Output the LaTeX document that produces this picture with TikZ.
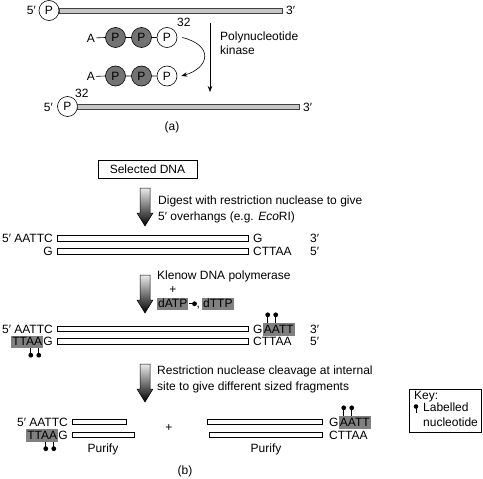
\documentclass[tikz,border=0pt]{standalone}
\usepackage{fontspec}
\setmainfont{Liberation Sans}
\usetikzlibrary{arrows.meta}
\begin{document}
\begin{tikzpicture}[x=1pt,y=-1pt,
  every node/.style={font=\fontsize{12}{14}\selectfont},
  lab/.style={anchor=base west, inner sep=0pt},
  labr/.style={anchor=base east, inner sep=0pt},
  labc/.style={anchor=base, inner sep=0pt},
  pc/.style={circle, draw, line width=0.6pt, minimum size=20pt, inner sep=0pt, fill=white},
  pd/.style={pc, fill=black!55},
  strandA/.style={draw=black!75, fill=black!22, line width=0.5pt},
  strand/.style={draw, fill=white, line width=0.6pt},
  hl/.style={fill=black!50, inner xsep=1pt, inner ysep=0pt, text height=10pt, text depth=2.5pt},
  conn/.style={line width=0.6pt},
  pindown/.pic={\draw[line width=0.8pt] (0,0) -- (0,7); \fill (0,7) circle (2.4pt);},
  pinup/.pic={\draw[line width=0.8pt] (0,0) -- (0,-8); \fill (0,-8) circle (2.4pt);},
  keypin/.pic={\draw[line width=0.8pt] (0,0) -- (0,-6.5); \fill (0,-6.5) circle (2.3pt);},
  pinright/.pic={\draw[line width=0.8pt] (0,0) -- (6,0); \fill (6,0) circle (2.4pt);},
  garrow/.pic={\shade[top color=black!8, bottom color=black, draw=black, line width=0.5pt] (-5,0) -- (5,0) -- (5,25) -- (8,25) -- (0,38) -- (-8,25) -- (-5,25) -- cycle;}
]
\useasboundingbox (0,0) rectangle (483,479);

% ---------------- (a) ----------------
\node[labr] (a5t) at (36,15) {5′};
\node[pc] (pt) at (49,10.5) {P};
\draw[strandA] (59,8.2) rectangle (282,13);
\node[lab] (a3t) at (286,15) {3′};

\node[labr] (A1) at (95,42) {A};
\node[pd] (c11) at (115.5,37.5) {P};
\node[pd] (c12) at (141.5,37.5) {P};
\node[pc] (c13) at (167,37.5) {P};
\draw[conn] ([xshift=1pt]A1.east) -- (c11.west) (c11.east) -- (c12.west) (c12.east) -- (c13.west);
\node[lab] (n32a) at (177,26.5) {32};

\node[labr] (A2) at (95,80.5) {A};
\node[pd] (c21) at (115.5,76) {P};
\node[pd] (c22) at (141.5,76) {P};
\node[pc] (c23) at (167,76) {P};
\draw[conn] ([xshift=1pt]A2.east) -- (c21.west) (c21.east) -- (c22.west) (c22.east) -- (c23.west);

\draw[conn,-{Stealth[length=6pt,width=4.5pt]}] ([xshift=5pt]c13.east) .. controls +(32,8) and +(28,-8) .. ([xshift=4pt]c23.east);

\coordinate (kv1) at (210,23);
\coordinate (kv2) at (210,92);
\draw[conn,-{Stealth[length=6pt,width=4.5pt]}] (kv1) -- (kv2);
\node[lab] (kin1) at (220,40.5) {Polynucleotide};
\node[lab] (kin2) at (220,55) {kinase};

\node[labr] (a5b) at (53,111.5) {5′};
\node[pc] (pb) at (67.5,106.5) {P};
\node[lab] (n32b) at (75,97) {32};
\draw[strandA] (77,104) rectangle (299,109);
\node[lab] (a3b) at (303,111.5) {3′};
\node (la) at (172,127) {(a)};

% ---------------- (b) ----------------
\node[draw, line width=0.7pt, minimum width=99pt, minimum height=18pt, inner sep=0pt] (sel) at (147.5,169.5) {Selected DNA};

\pic at (145,188) {garrow};
\node[lab] (d1) at (158,204.5) {Digest with restriction nuclease to give};
\node[lab] (d2) at (158,220) {5′ overhangs (e.g. \textit{Eco}RI)};

\draw[strand] (57,235) rectangle (248,241);
\draw[strand] (57,248) rectangle (248,254);
\node[labr] (s1a) at (53,242.5) {5′ AATTC};
\node[labr] (s1b) at (53,255.5) {G};
\node[lab] (s1c) at (253,242.5) {G};
\node[lab] (s1d) at (310,242.5) {3′};
\node[lab] (s1e) at (253,255.5) {CTTAA};
\node[lab] (s1f) at (310,255.5) {5′};

\pic at (145,275) {garrow};
\node[lab] (k1) at (157,279.5) {Klenow DNA polymerase};
\node (kplus) at (173,290) {+};
\node[hl, anchor=base west] (datp) at (157,307.5) {dATP};
\pic at (datp.east) {pinright};
\node[lab] (kcomma) at (196.5,307.5) {,};
\node[hl, anchor=base west] (dttp) at (202,307.5) {dTTP};

\draw[strand] (57,326) rectangle (248,331);
\draw[strand] (57,338) rectangle (248,344);
\node[labr] (s2a) at (53,333) {5′ AATTC};
\node[labr] (s2b) at (53,345.5) {G};
\node[hl, anchor=base east] (s2bh) at (s2b.base west) {TTAA};
\pic at ([xshift=19.7pt]s2bh.south west) {pindown};
\pic at ([xshift=27.7pt]s2bh.south west) {pindown};
\node[lab] (s2c) at (253,333) {G};
\node[hl, anchor=base west] (s2ch) at (s2c.base east) {AATT};
\pic at ([xshift=5pt]s2ch.north west) {pinup};
\pic at ([xshift=13pt]s2ch.north west) {pinup};
\node[lab] (s2d) at (310,333) {3′};
\node[lab] (s2e) at (253,345.5) {CTTAA};
\node[lab] (s2f) at (310,345.5) {5′};

\pic at (145,364) {garrow};
\node[lab] (r1) at (157,374.5) {Restriction nuclease cleavage at internal};
\node[lab] (r2) at (157,390.5) {site to give different sized fragments};

% key
\node[draw, line width=0.7pt, minimum width=72pt, minimum height=43pt, inner sep=0pt] (key) at (445,410.5) {};
\node[lab] (keyt) at (414,399.5) {Key:};
\pic at (416,413) {keypin};
\node[lab] (key1) at (423,411.5) {Labelled};
\node[lab] (key2) at (423,426) {nucleotide};

% fragments
\draw[strand] (72,419) rectangle (126,424);
\draw[strand] (72,432) rectangle (134,437);
\node[labr] (f1a) at (68,426) {5′ AATTC};
\node[labr] (f1b) at (68,439) {G};
\node[hl, anchor=base east] (f1bh) at (f1b.base west) {TTAA};
\pic at ([xshift=19.7pt]f1bh.south west) {pindown};
\pic at ([xshift=27.7pt]f1bh.south west) {pindown};
\node[labc] (pur1) at (103,452) {Purify};

\node (fplus) at (169,428) {+};

\draw[strand] (207,419) rectangle (322,424);
\draw[strand] (209,432) rectangle (322,437);
\node[lab] (f2a) at (329,426) {G};
\node[hl, anchor=base west] (f2ah) at (f2a.base east) {AATT};
\pic at ([xshift=5pt]f2ah.north west) {pinup};
\pic at ([xshift=13pt]f2ah.north west) {pinup};
\node[lab] (f2b) at (329,439) {CTTAA};
\node[labc] (pur2) at (266,452) {Purify};

\node (lb) at (185,471) {(b)};
\end{tikzpicture}
\end{document}
